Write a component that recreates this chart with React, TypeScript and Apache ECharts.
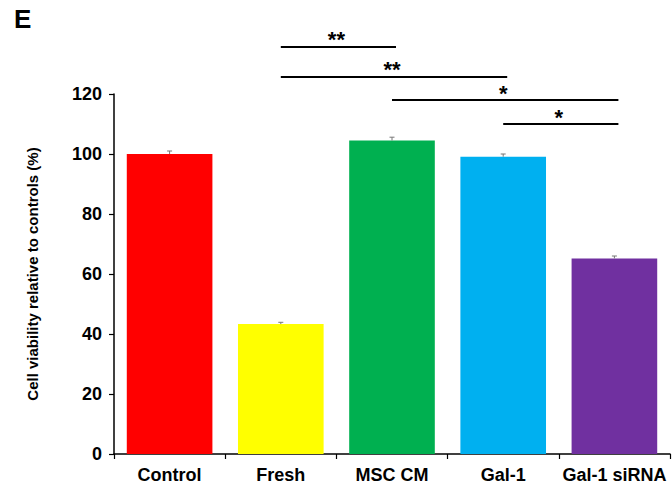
import React, { useEffect, useRef } from "react";
import * as echarts from "echarts";

const categories = ["Control", "Fresh", "MSC CM", "Gal-1", "Gal-1 siRNA"];
const viability = [100, 43.3, 104.5, 99.1, 65.2];
const errors = [1.0, 0.6, 1.1, 0.9, 0.8];
const barColors = ["#FF0000", "#FFFF00", "#00B050", "#00B0F0", "#7030A0"];
const yTicks = { min: 0, max: 120, interval: 20 };
// significance comparisons: [from category index, to category index, level (data units), label]
const comparisons: [number, number, number, string][] = [
  [1, 2, 135.7, "**"],
  [1, 3, 125.7, "**"],
  [2, 4, 118, "*"],
  [3, 4, 110, "*"],
];

const FONT = "Liberation Sans, Arial, sans-serif";

export default function App() {
  const ref = useRef<HTMLDivElement>(null);
  useEffect(() => {
    if (!ref.current) return;
    const chart = echarts.init(ref.current, undefined, { renderer: "svg" });
    const option: any = {
      animation: false,
      backgroundColor: "#ffffff",
      grid: { left: 114, right: 2, top: 94, bottom: 35, containLabel: false },
      xAxis: {
        type: "category",
        data: categories,
        axisLine: { lineStyle: { color: "#000", width: 1.5 } },
        axisTick: { show: true, length: 5, lineStyle: { color: "#000", width: 1.2 } },
        axisLabel: {
          interval: 0,
          hideOverlap: false,
          color: "#000",
          fontFamily: FONT,
          fontWeight: "bold",
          fontSize: 18,
          margin: 12,
        },
      },
      yAxis: {
        type: "value",
        min: yTicks.min,
        max: yTicks.max,
        interval: yTicks.interval,
        name: "Cell viability relative to controls (%)",
        nameLocation: "middle",
        nameGap: 74,
        nameTextStyle: { color: "#000", fontFamily: FONT, fontWeight: "bold", fontSize: 15 },
        axisLine: { show: true, lineStyle: { color: "#000", width: 1.5 } },
        axisTick: { show: true, length: 5, lineStyle: { color: "#000", width: 1.2 } },
        splitLine: { show: false },
        axisLabel: { color: "#000", fontFamily: FONT, fontWeight: "bold", fontSize: 18, margin: 12 },
      },
      series: [
        {
          type: "bar",
          data: viability.map((v, i) => ({ value: v, itemStyle: { color: barColors[i] } })),
          barCategoryGap: "23%",
        },
        {
          type: "custom",
          data: viability.map((v, i) => [i, v, errors[i]]),
          z: 10,
          renderItem: (params: any, api: any) => {
            const i = api.value(0);
            const v = api.value(1);
            const e = api.value(2);
            const top = api.coord([i, v + e]);
            const bot = api.coord([i, v]);
            const style = { stroke: "#777", lineWidth: 1 };
            return {
              type: "group",
              children: [
                { type: "line", shape: { x1: top[0], y1: top[1], x2: bot[0], y2: bot[1] }, style },
                { type: "line", shape: { x1: top[0] - 2.5, y1: top[1], x2: top[0] + 2.5, y2: top[1] }, style },
              ],
            };
          },
        },
      ],
    };
    chart.setOption(option);

    const graphics: any[] = [
      {
        type: "text",
        left: 14,
        top: 6,
        style: { text: "E", fill: "#000", font: `bold 26px ${FONT}` },
      },
    ];
    comparisons.forEach(([a, b, lvl, label]) => {
      const p1 = chart.convertToPixel({ xAxisIndex: 0, yAxisIndex: 0 }, [a, lvl]) as number[];
      const p2 = chart.convertToPixel({ xAxisIndex: 0, yAxisIndex: 0 }, [b, lvl]) as number[];
      graphics.push({
        type: "line",
        shape: { x1: p1[0], y1: p1[1], x2: p2[0] + 4, y2: p2[1] },
        style: { stroke: "#000", lineWidth: 2 },
      });
      graphics.push({
        type: "text",
        x: (p1[0] + p2[0]) / 2,
        y: p1[1] - 7,
        style: {
          text: label,
          fill: "#000",
          font: `bold 22px ${FONT}`,
          align: "center",
          verticalAlign: "middle",
        },
      });
    });
    chart.setOption({ graphic: graphics });

    return () => chart.dispose();
  }, []);
  return <div ref={ref} style={{ width: 672, height: 489, position: "absolute", left: 0, top: 0 }} />;
}
